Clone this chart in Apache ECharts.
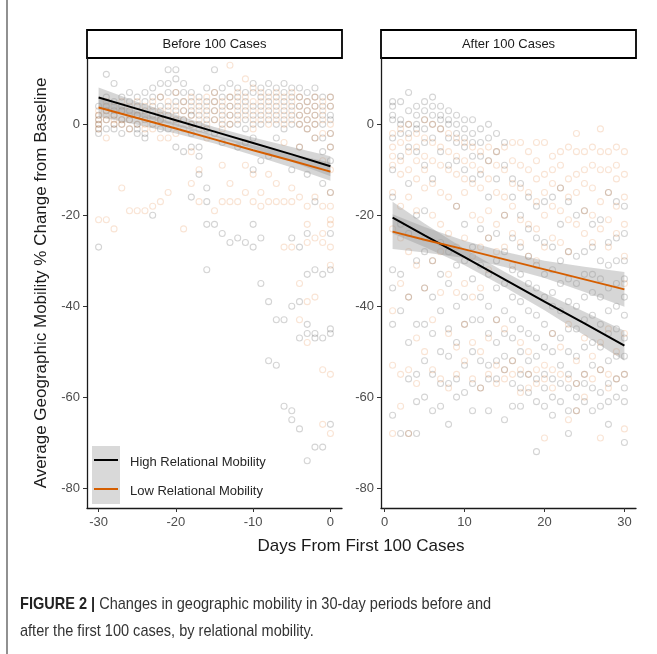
<!DOCTYPE html>
<html>
<head>
<meta charset="utf-8">
<script src="https://cdn.jsdelivr.net/npm/echarts@6/dist/echarts.min.js"></script>
<style>
  html, body { margin: 0; padding: 0; background: #fff; }
  #chart { width: 657px; height: 654px; }
</style>
</head>
<body>
<div id="chart"></div>
<script>
// panel titles / legend labels
const panelTitles = ["Before 100 Cases", "After 100 Cases"];
const groupNames = ["High Relational Mobility", "Low Relational Mobility"];

const yTicks = [-80, -60, -40, -20, 0];
const beforeTicks = [-30, -20, -10, 0];
const afterTicks = [0, 10, 20, 30];

// raw points, one list per day (before: day -30 .. 0)
const beforeHigh = [
  [4, 2, 1, 0, -1, -2, -27], [11, 6, 4, 3, 1, -1], [9, 5, 3, 2, 0, -1], [6, 4, 3, 1, 0, -2],
  [7, 5, 3, 1, -1], [6, 4, 2, 0, -1, -2], [7, 5, 3, 1, -2, -3], [8, 6, 4, 2, 0, -20],
  [9, 6, 4, 2, 1, -1], [12, 9, 7, 4, 2, -1], [12, 10, 7, 5, 3, 1, -5], [9, 7, 5, 3, 1, -6],
  [7, 5, 3, 2, 0, -2, -5, -16], [6, 4, 2, 0, -5, -7, -11], [8, 5, 3, 1, -1, -14, -17, -22, -32],
  [12, 7, 5, 3, 1, -2, -22], [8, 6, 4, 2, 0, -4, -24], [9, 6, 4, 2, 0, -26],
  [8, 6, 4, 2, 0, -5, -25], [7, 5, 3, 1, -1, -4, -26], [9, 7, 4, 2, 0, -3, -10, -22, -27],
  [8, 6, 4, 2, 0, -8, -25, -35], [9, 7, 5, 3, 1, -7, -39, -52], [8, 6, 4, 2, 0, -3, -43, -53],
  [9, 7, 5, 3, 1, -1, -43, -62], [8, 6, 4, 2, 0, -10, -25, -40, -63, -65],
  [8, 6, 4, 2, 0, -5, -27, -39, -47, -67], [7, 5, 3, 1, -1, -11, -24, -33, -44, -46, -74],
  [8, 6, 4, 2, 0, -3, -17, -32, -46, -47, -71], [6, 4, 2, 0, -3, -6, -13, -33, -47, -71],
  [6, 4, 2, 1, -2, -5, -8, -15, -24, -32, -45, -46, -66]
];
const beforeLow = [
  [3, 2, 1, 0, -1, -21], [5, 3, 2, 1, -3, -21], [4, 2, 1, 0, -23], [5, 3, 1, 0, -14],
  [4, 2, 1, -1, -19], [5, 3, 2, 0, -19], [4, 2, 0, -1, -19], [5, 3, 1, -1, -18],
  [6, 3, 1, -3, -17], [5, 3, 1, -3, -15], [7, 4, 2, 0, -2], [5, 3, 1, -1, -23],
  [6, 4, 2, 0, -6, -13], [5, 3, 1, -1, -10, -17], [6, 4, 2, 0, -3], [7, 5, 3, 1, -19],
  [5, 3, 1, -1, -9, -17], [13, 6, 4, 2, 0, -13, -17], [7, 5, 3, 1, -17], [10, 6, 4, 2, -9, -15],
  [8, 5, 3, 1, -1, -11, -17], [7, 5, 3, 1, -15, -18], [6, 4, 2, 0, -11, -17], [7, 5, 3, 1, -13, -17],
  [6, 4, 2, 0, -4, -17, -27], [7, 5, 3, 1, -14, -17, -27], [6, 4, 2, 0, -5, -16, -35, -43],
  [5, 3, 1, -1, -18, -22, -26, -39, -48], [6, 4, 2, 0, -3, -16, -25, -38],
  [5, 3, 1, -2, -8, -18, -24, -26, -54, -66],
  [6, 4, 0, -2, -5, -10, -15, -18, -21, -22, -27, -31, -55, -68]
];

// after: day 1 .. 30
const afterHigh = [
  [5, 4, 2, 1, -3, -10, -16, -32, -36, -44, -64], [5, 1, 0, -2, -7, -22, -33, -41, -68],
  [7, 3, 0, -2, -5, -13, -24, -38, -48, -56, -68], [4, 2, 0, -1, -6, -20, -30, -44, -55, -61, -68],
  [5, 3, 1, -1, -4, -9, -19, -28, -36, -44, -52, -60], [6, 4, 2, 0, -3, -12, -30, -38, -46, -55, -63],
  [4, 2, 1, -1, -6, -26, -33, -41, -50, -57, -62], [3, 1, 0, -3, -9, -28, -35, -45, -51, -57, -66],
  [2, 0, -2, -4, -8, -18, -31, -40, -48, -56, -60], [1, -1, -3, -5, -10, -22, -30, -38, -44, -53, -59],
  [1, -2, -4, -7, -12, -27, -34, -43, -50, -57, -63], [-1, -4, -7, -11, -23, -31, -38, -43, -52, -58],
  [0, -3, -8, -16, -25, -33, -40, -46, -53, -56, -63], [-2, -6, -12, -24, -30, -36, -43, -48, -52, -56],
  [-4, -9, -20, -28, -35, -41, -46, -51, -54, -65], [-12, -16, -25, -32, -38, -43, -47, -52, -57, -62],
  [-13, -20, -27, -33, -39, -45, -50, -55, -58, -62], [-16, -23, -29, -35, -41, -46, -52, -55, -59],
  [-18, -25, -31, -36, -42, -47, -51, -56, -61, -72], [-17, -26, -33, -38, -44, -49, -55, -58, -62],
  [-16, -27, -32, -37, -40, -46, -50, -56, -60, -64], [-14, -22, -30, -35, -41, -47, -53, -57, -61],
  [-17, -28, -34, -39, -45, -50, -55, -58, -63, -68], [-20, -29, -35, -40, -45, -51, -57, -60, -63],
  [-19, -28, -33, -38, -43, -49, -55, -57, -61], [-22, -27, -33, -37, -42, -48, -53, -58, -63],
  [-21, -30, -34, -38, -44, -49, -54, -59, -62], [-15, -26, -31, -36, -41, -46, -52, -57, -61, -66],
  [-17, -25, -30, -35, -40, -45, -51, -56, -60],
  [-18, -24, -30, -34, -38, -42, -47, -51, -55, -58, -61, -70]
];
const afterLow = [
  [-2, -5, -7, -9, -15, -23, -41, -53, -68], [-1, -4, -8, -11, -18, -25, -35, -55, -62],
  [0, -3, -6, -10, -16, -28, -38, -54, -68], [-2, -5, -8, -12, -19, -31, -47, -57],
  [1, -3, -7, -10, -14, -25, -36, -50], [0, -4, -8, -13, -20, -30, -43, -54],
  [-1, -5, -9, -15, -22, -28, -37, -56], [-2, -6, -10, -16, -24, -33, -46, -58],
  [-3, -7, -11, -18, -27, -37, -49, -55], [-4, -8, -12, -15, -25, -35, -44, -52],
  [-5, -9, -13, -20, -29, -38, -48, -56], [-6, -10, -14, -21, -27, -36, -50, -58],
  [-5, -8, -12, -19, -25, -32, -47, -55], [-6, -9, -15, -22, -28, -43, -53, -57],
  [-5, -10, -16, -20, -27, -45, -54, -56], [-4, -8, -13, -18, -24, -31, -52, -55],
  [-4, -9, -14, -21, -26, -48, -54, -59], [-6, -10, -15, -22, -29, -50, -55, -58],
  [-4, -8, -12, -17, -23, -30, -54, -57], [-4, -11, -15, -20, -27, -53, -56, -69],
  [-7, -10, -13, -18, -25, -46, -54, -58], [-6, -9, -14, -19, -26, -49, -55],
  [-5, -12, -16, -21, -28, -44, -56, -65], [-2, -6, -11, -15, -22, -52, -57, -63],
  [-6, -10, -13, -19, -24, -47, -55, -60], [-5, -9, -14, -20, -26, -51, -56],
  [-1, -6, -10, -17, -23, -48, -54, -69], [-6, -10, -15, -21, -27, -45, -55, -58],
  [-5, -9, -12, -18, -24, -50, -56], [-6, -11, -16, -22, -29, -35, -46, -55, -67]
];

// fitted lines and confidence bands, read at these days
const beforeFitX = [-30, -25, -20, -15, -10, -5, 0];
const beforeHighFit = [5.9, 3.4, 0.9, -1.6, -4.1, -6.6, -9.2];
const beforeHighLo = [3.7, 1.8, -0.3, -2.6, -5.3, -8.2, -11.4];
const beforeHighHi = [8.1, 5.0, 2.1, -0.6, -2.9, -5.0, -7.0];
const beforeLowFit = [3.7, 1.4, -0.9, -3.3, -5.7, -8.0, -10.4];
const beforeLowLo = [1.7, -0.1, -2.0, -4.2, -6.8, -9.5, -12.4];
const beforeLowHi = [5.7, 2.9, 0.2, -2.4, -4.6, -6.5, -8.4];

const afterFitX = [1, 5, 10, 15, 20, 25, 30];
const afterHighFit = [-20.5, -24.4, -29.2, -34.1, -39.0, -43.8, -48.7];
const afterHighLo = [-24.0, -27.0, -31.0, -35.8, -40.9, -46.4, -52.0];
const afterHighHi = [-17.0, -21.8, -27.4, -32.4, -37.1, -41.2, -45.4];
const afterLowFit = [-23.6, -25.4, -27.5, -29.7, -31.9, -34.1, -36.3];
const afterLowLo = [-27.4, -28.2, -29.4, -31.4, -33.8, -36.9, -40.1];
const afterLowHi = [-19.8, -22.6, -25.6, -28.0, -30.0, -31.3, -32.5];

const HIGH = "#000000";
const LOW = "#D55E00";
const FONT = "Arial, 'Liberation Sans', sans-serif";
const CAP_FONT = "'Liberation Sans Narrow', 'Liberation Sans', Arial";

function toPoints(startDay, perDay) {
  const out = [];
  perDay.forEach((vals, i) => vals.forEach((v) => out.push([startDay + i, v])));
  return out;
}

function pointSeries(idx, data, rgb) {
  return {
    type: "scatter", xAxisIndex: idx, yAxisIndex: idx, data, silent: true,
    symbol: "circle", symbolSize: 6,
    itemStyle: { color: "transparent", borderColor: "rgba(" + rgb + ",0.21)", borderWidth: 1.1 }
  };
}

function bandSeries(idx, xs, lo, hi) {
  return {
    type: "custom", xAxisIndex: idx, yAxisIndex: idx, silent: true, z: 3,
    data: [[xs[0], lo[0]]],
    renderItem: (params, api) => {
      const top = xs.map((x, i) => api.coord([x, hi[i]]));
      const bot = xs.map((x, i) => api.coord([x, lo[i]])).reverse();
      return { type: "polygon", shape: { points: top.concat(bot) }, style: { fill: "rgba(153,153,153,0.4)" } };
    }
  };
}

function fitSeries(idx, xs, ys, color) {
  return {
    type: "line", xAxisIndex: idx, yAxisIndex: idx, silent: true, z: 4,
    data: xs.map((x, i) => [x, ys[i]]), symbol: "none",
    lineStyle: { color, width: 2 }
  };
}

function xAxis(idx, min, max, ticks) {
  return {
    type: "value", gridIndex: idx, min, max,
    splitLine: { show: false },
    axisLine: { onZero: false, lineStyle: { color: "#1a1a1a", width: 1.3 } },
    axisTick: { customValues: ticks, length: 4, lineStyle: { color: "#333" } },
    axisLabel: { customValues: ticks, margin: 8, color: "#4d4d4d", fontSize: 13, fontFamily: FONT }
  };
}

function yAxis(idx) {
  const ax = {
    type: "value", gridIndex: idx, min: -84.4, max: 14.6,
    splitLine: { show: false },
    axisLine: { show: true, onZero: false, lineStyle: { color: "#1a1a1a", width: 1.3 } },
    axisTick: { show: true, customValues: yTicks, length: 4, lineStyle: { color: "#333" } },
    axisLabel: { customValues: yTicks, margin: 7, color: "#4d4d4d", fontSize: 13, fontFamily: FONT }
  };
  if (idx === 0) {
    ax.name = "Average Geographic Mobility % Change from Baseline";
    ax.nameLocation = "middle";
    ax.nameGap = 37;
    ax.nameTextStyle = { color: "#1a1a1a", fontSize: 17, fontFamily: FONT };
  }
  return ax;
}

function strip(x, text) {
  return [
    { type: "rect", shape: { x, y: 30, width: 255, height: 28 }, style: { fill: "#fff", stroke: "#000", lineWidth: 1.8 } },
    { type: "text", x: x + 127.5, y: 44.5, style: { text, fill: "#1a1a1a", font: "13px " + FONT, textAlign: "center", textVerticalAlign: "middle" } }
  ];
}

const chart = echarts.init(document.getElementById("chart"), null, { renderer: "canvas" });

chart.setOption({
  backgroundColor: "#fff",
  animation: false,
  grid: [
    { left: 87, top: 58, width: 255, height: 450 },
    { left: 381, top: 58, width: 255, height: 450 }
  ],
  xAxis: [xAxis(0, -31.5, 1.5, beforeTicks), xAxis(1, -0.45, 31.45, afterTicks)],
  yAxis: [yAxis(0), yAxis(1)],
  series: [
    pointSeries(0, toPoints(-30, beforeHigh), "0,0,0"),
    pointSeries(0, toPoints(-30, beforeLow), "217,95,2"),
    pointSeries(1, toPoints(1, afterHigh), "0,0,0"),
    pointSeries(1, toPoints(1, afterLow), "217,95,2"),
    bandSeries(0, beforeFitX, beforeHighLo, beforeHighHi),
    bandSeries(0, beforeFitX, beforeLowLo, beforeLowHi),
    bandSeries(1, afterFitX, afterHighLo, afterHighHi),
    bandSeries(1, afterFitX, afterLowLo, afterLowHi),
    fitSeries(0, beforeFitX, beforeHighFit, HIGH),
    fitSeries(0, beforeFitX, beforeLowFit, LOW),
    fitSeries(1, afterFitX, afterHighFit, HIGH),
    fitSeries(1, afterFitX, afterLowFit, LOW)
  ],
  graphic: [
    { type: "line", shape: { x1: 7, y1: 0, x2: 7, y2: 654 }, style: { stroke: "#555", lineWidth: 1.3 } },
    ...strip(87, panelTitles[0]),
    ...strip(381, panelTitles[1]),
    // legend inside the left panel
    { type: "rect", shape: { x: 92, y: 446, width: 28, height: 58 }, style: { fill: "#d9d9d9" } },
    { type: "line", shape: { x1: 94, y1: 460, x2: 118, y2: 460 }, style: { stroke: HIGH, lineWidth: 2 } },
    { type: "line", shape: { x1: 94, y1: 489, x2: 118, y2: 489 }, style: { stroke: LOW, lineWidth: 2 } },
    { type: "text", x: 130, y: 462, style: { text: groupNames[0], fill: "#262626", font: "13px " + FONT, textVerticalAlign: "middle" } },
    { type: "text", x: 130, y: 491, style: { text: groupNames[1], fill: "#262626", font: "13px " + FONT, textVerticalAlign: "middle" } },
    { type: "text", x: 361, y: 546, style: { text: "Days From First 100 Cases", fill: "#1a1a1a", font: "17px " + FONT, textAlign: "center", textVerticalAlign: "middle" } },
    // caption, squeezed horizontally like the condensed journal font
    {
      type: "text", x: 20, y: 604, scaleX: 0.855,
      style: {
        text: "{b|FIGURE 2 |} Changes in geographic mobility in 30-day periods before and",
        fill: "#333", font: "17px " + CAP_FONT, textVerticalAlign: "middle",
        rich: { b: { fontWeight: "bold", fontSize: 17, fontFamily: CAP_FONT, fill: "#222" } }
      }
    },
    {
      type: "text", x: 20, y: 631, scaleX: 0.855,
      style: { text: "after the first 100 cases, by relational mobility.", fill: "#333", font: "17px " + CAP_FONT, textVerticalAlign: "middle" }
    }
  ]
});
</script>
</body>
</html>
